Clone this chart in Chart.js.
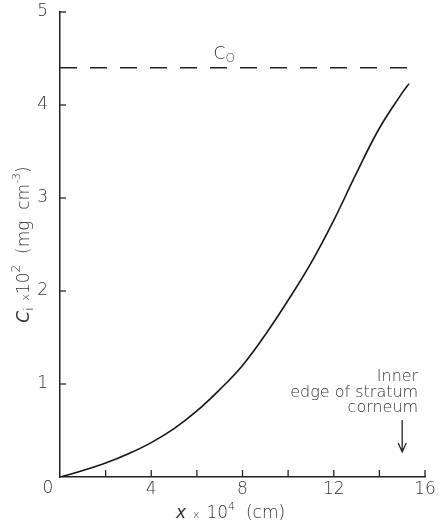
<!DOCTYPE html>
<html>
<head>
<meta charset="utf-8">
<script src="https://cdn.jsdelivr.net/npm/chart.js@4.4.1/dist/chart.umd.min.js"></script>
<style>
    html, body { margin: 0; padding: 0; background: #fff; }
    #wrap { width: 443px; height: 526px; }
</style>
</head>
<body>
<div id="wrap"><canvas id="profile" width="443" height="526"></canvas></div>
<script>
// concentration profile across the stratum corneum
const depth = [0, 1, 2, 3, 4, 5, 6, 7, 8, 9, 10, 11, 12, 13, 14, 15, 15.3];
const conc = [0, 0.07, 0.15, 0.25, 0.37, 0.52, 0.71, 0.94, 1.2, 1.53, 1.9, 2.3, 2.76, 3.27, 3.75, 4.13, 4.23];

// surface concentration C0
const c0Level = 4.4;
const c0Span = [0, 15.4];

const xTicks = [0, 2, 4, 6, 8, 10, 12, 14, 16];
const xLabelled = [4, 8, 12, 16];
const yTicks = [0, 1, 2, 3, 4, 5];
const edgeDepth = 15;

const FONT = '"DejaVu Sans", sans-serif';
const INK = '#333';

function font(size, italic) {
    return (italic ? 'italic ' : '') + '200 ' + size + 'px ' + FONT;
}

// draw a row of text pieces with their own size and baseline shift
function drawRuns(ctx, runs, cx, cy) {
    let total = 0;
    runs.forEach(r => {
        ctx.font = font(r.size, r.italic);
        r.w = ctx.measureText(r.t).width;
        total += r.w;
    });
    let x = cx - total / 2;
    ctx.textAlign = 'left';
    ctx.textBaseline = 'middle';
    runs.forEach(r => {
        ctx.font = font(r.size, r.italic);
        ctx.fillText(r.t, x, cy + (r.dy || 0));
        x += r.w;
    });
}

const decorations = {
    id: 'decorations',
    afterDraw(chart) {
        const { ctx, chartArea } = chart;
        const xs = chart.scales.x;
        const ys = chart.scales.y;
        ctx.save();
        ctx.strokeStyle = '#222';
        ctx.fillStyle = INK;
        ctx.lineWidth = 1.3;

        // inward tick marks
        xTicks.forEach(v => {
            const px = xs.getPixelForValue(v);
            if (v === 0) return;
            ctx.beginPath();
            ctx.moveTo(px, chartArea.bottom);
            ctx.lineTo(px, chartArea.bottom - 7);
            ctx.stroke();
        });
        yTicks.forEach(v => {
            const py = ys.getPixelForValue(v);
            if (v === 0) return;
            ctx.beginPath();
            ctx.moveTo(chartArea.left, py);
            ctx.lineTo(chartArea.left + 6, py);
            ctx.stroke();
        });

        // shared origin label
        ctx.font = font(17);
        ctx.textAlign = 'center';
        ctx.textBaseline = 'middle';
        ctx.fillText('0', chartArea.left - 12, chartArea.bottom + 12);

        // axis titles
        drawRuns(ctx, [
            { t: 'x', size: 17, italic: true },
            { t: '  x  ', size: 11, dy: 1 },
            { t: '10', size: 17 },
            { t: '4', size: 11, dy: -7 },
            { t: '  (cm)', size: 17 }
        ], (chartArea.left + chartArea.right) / 2 - 12, chartArea.bottom + 37);

        ctx.save();
        ctx.translate(25, (chartArea.top + chartArea.bottom) / 2);
        ctx.rotate(-Math.PI / 2);
        drawRuns(ctx, [
            { t: 'C', size: 17, italic: true },
            { t: 'i', size: 12, dy: 5 },
            { t: '  x', size: 11, dy: 1 },
            { t: '10', size: 17 },
            { t: '2', size: 12, dy: -8 },
            { t: '  (mg  cm', size: 17 },
            { t: '-3', size: 11, dy: -8 },
            { t: ')', size: 17 }
        ], 0, 0);
        ctx.restore();

        // C0 label above the dashed line
        const c0y = ys.getPixelForValue(c0Level);
        drawRuns(ctx, [
            { t: 'C', size: 17 },
            { t: 'O', size: 12, dy: 4 }
        ], xs.getPixelForValue(7.2), c0y - 13);

        // inner edge annotation and arrow
        const ax = xs.getPixelForValue(edgeDepth);
        ctx.font = font(16);
        ctx.textAlign = 'right';
        ctx.textBaseline = 'middle';
        const tx = ax + 16;
        ctx.fillText('Inner', tx, chartArea.bottom - 100);
        ctx.fillText('edge of stratum', tx, chartArea.bottom - 84);
        ctx.fillText('corneum', tx, chartArea.bottom - 69);

        const top = chartArea.bottom - 57;
        const tip = chartArea.bottom - 25;
        ctx.beginPath();
        ctx.moveTo(ax, top);
        ctx.lineTo(ax, tip);
        ctx.moveTo(ax - 4, tip - 9);
        ctx.lineTo(ax, tip);
        ctx.lineTo(ax + 4, tip - 9);
        ctx.stroke();

        ctx.restore();
    }
};

new Chart(document.getElementById('profile'), {
    type: 'line',
    data: {
        datasets: [{
            label: 'C',
            data: depth.map((d, i) => ({ x: d, y: conc[i] })),
            borderColor: '#151515',
            borderWidth: 1.6,
            pointRadius: 0,
            tension: 0.4,
            fill: false
        }, {
            label: 'C0',
            data: c0Span.map(d => ({ x: d, y: c0Level })),
            borderColor: '#222',
            borderWidth: 1.5,
            borderDash: [17, 13],
            pointRadius: 0,
            fill: false
        }]
    },
    options: {
        responsive: false,
        animation: false,
        layout: { padding: { left: 0, right: 18, top: 12, bottom: 0 } },
        plugins: {
            legend: { display: false },
            tooltip: { enabled: false }
        },
        scales: {
            x: {
                type: 'linear',
                min: 0,
                max: 16,
                grid: { drawOnChartArea: false, drawTicks: false },
                border: { display: true, color: '#222', width: 1.5 },
                ticks: {
                    stepSize: 2,
                    padding: 2,
                    color: INK,
                    font: { family: FONT, size: 17, weight: 200 },
                    maxRotation: 0,
                    autoSkip: false,
                    callback: v => xLabelled.includes(v) ? String(v) : ''
                },
                afterFit: scale => {
                    scale.height = 49;
                    scale.paddingLeft = 0;
                    scale.paddingRight = 0;
                }
            },
            y: {
                min: 0,
                max: 5,
                grid: { drawOnChartArea: false, drawTicks: false },
                border: { display: true, color: '#222', width: 1.5 },
                ticks: {
                    stepSize: 1,
                    padding: 12,
                    color: INK,
                    font: { family: FONT, size: 17, weight: 200 },
                    callback: v => v === 0 ? '' : String(v)
                },
                afterFit: scale => {
                    scale.width = 60;
                    scale.paddingTop = 0;
                    scale.paddingBottom = 0;
                }
            }
        }
    },
    plugins: [decorations]
});
</script>
</body>
</html>
